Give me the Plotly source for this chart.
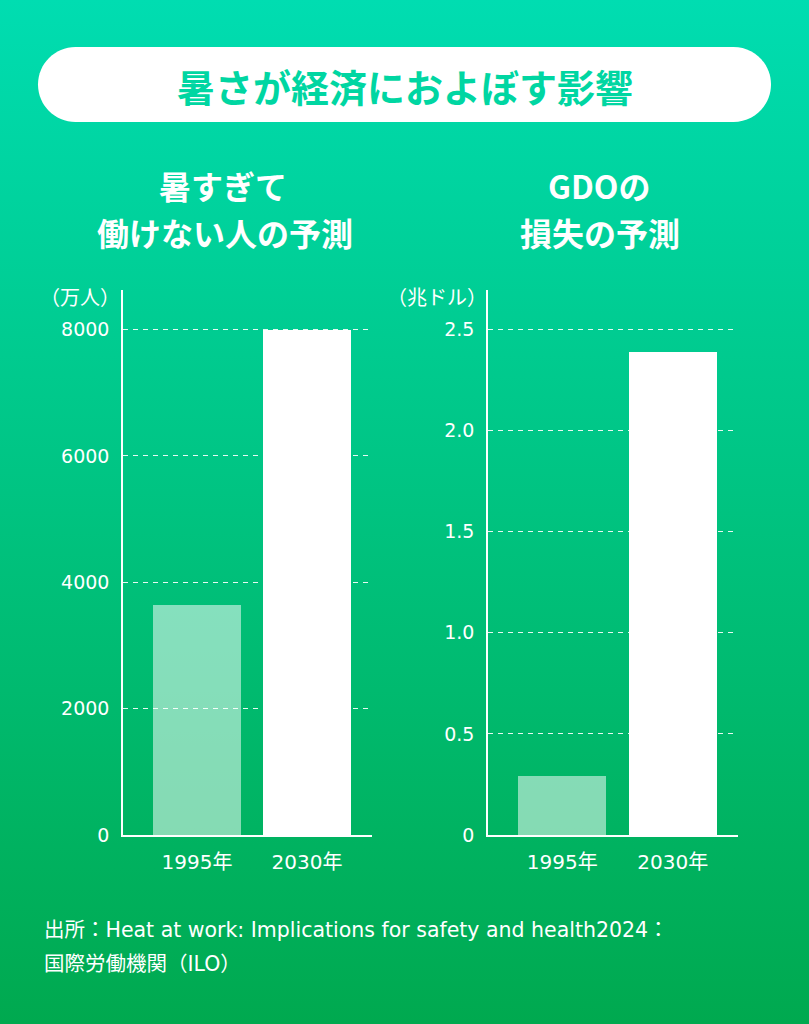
import base64
import plotly.graph_objects as go

W, H = 809, 1024

# data
years = ["1995年", "2030年"]
workers = [3640, 8000]          # 万人
gdp_loss = [0.29, 2.39]         # 兆ドル
worker_ticks = [0, 2000, 4000, 6000, 8000]
gdp_ticks = [0, 0.5, 1.0, 1.5, 2.0, 2.5]
gdp_tick_text = ["0", "0.5", "1.0", "1.5", "2.0", "2.5"]

FONT = "Noto Sans CJK JP"
TEXT_FONT = "DejaVu Sans, Noto Sans CJK JP"
bar_colors = ["rgba(255,255,255,0.52)", "#ffffff"]


def px(x):
    return x / W


def py(y):
    return 1 - y / H


def pt(x, y):
    return "%.5f,%.5f" % (px(x), py(y))


# rounded title pill as a path (pixel coords -> paper)
def pill(x0, y0, x1, y1):
    r = (y1 - y0) / 2
    k = 0.5523 * r
    ym = y0 + r
    return ("M" + pt(x0 + r, y0) + " L" + pt(x1 - r, y0) +
            " C" + pt(x1 - r + k, y0) + " " + pt(x1, ym - k) + " " + pt(x1, ym) +
            " C" + pt(x1, ym + k) + " " + pt(x1 - r + k, y1) + " " + pt(x1 - r, y1) +
            " L" + pt(x0 + r, y1) +
            " C" + pt(x0 + r - k, y1) + " " + pt(x0, ym + k) + " " + pt(x0, ym) +
            " C" + pt(x0, ym - k) + " " + pt(x0 + r - k, y0) + " " + pt(x0 + r, y0) + " Z")


svg = ('<svg xmlns="http://www.w3.org/2000/svg" width="809" height="1024">'
       '<defs><linearGradient id="g" x1="0" y1="0" x2="0" y2="1">'
       '<stop offset="0" stop-color="#00ddb1"/><stop offset="1" stop-color="#00a94f"/>'
       '</linearGradient></defs><rect width="809" height="1024" fill="url(#g)"/></svg>')
bg = "data:image/svg+xml;base64," + base64.b64encode(svg.encode()).decode()

fig = go.Figure()
fig.add_trace(go.Bar(x=[0, 1], y=workers, width=0.8, marker=dict(color=bar_colors, line_width=0),
                     xaxis="x", yaxis="y", hoverinfo="skip"))
fig.add_trace(go.Bar(x=[0, 1], y=gdp_loss, width=0.8, marker=dict(color=bar_colors, line_width=0),
                     xaxis="x2", yaxis="y2", hoverinfo="skip"))

y_bottom, y_top = 835, 290
y_domain = [py(y_bottom), py(y_top)]
xrange = [-0.673, 1.591]

common_x = dict(tickmode="array", tickvals=[0, 1], ticktext=years, range=xrange,
                showgrid=False, zeroline=False, showline=True, linecolor="white", linewidth=1.5,
                ticks="", ticklabelstandoff=8, automargin=False,
                tickfont=dict(family=TEXT_FONT, size=20, color="white"), fixedrange=True)
common_y = dict(domain=y_domain, showgrid=True, gridcolor="rgba(255,255,255,0.9)", gridwidth=1,
                griddash="5px,5px", zeroline=False, showline=True, linecolor="white", linewidth=1.5,
                ticks="", ticklabelstandoff=8, automargin=False,
                tickfont=dict(family=TEXT_FONT, size=19, color="white"), fixedrange=True)

fig.update_layout(
    width=W, height=H, autosize=False,
    margin=dict(l=0, r=0, t=0, b=0, pad=0),
    paper_bgcolor="#00c380", plot_bgcolor="rgba(0,0,0,0)",
    showlegend=False, bargap=0,
    xaxis=dict(domain=[px(123), px(372)], anchor="y", **common_x),
    xaxis2=dict(domain=[px(488), px(738)], anchor="y2", **common_x),
    yaxis=dict(anchor="x", range=[0, 8000 * 545 / 505.5], tickmode="array",
               tickvals=worker_ticks, ticktext=[str(v) for v in worker_ticks], **common_y),
    yaxis2=dict(anchor="x2", range=[0, 2.5 * 545 / 505.5], tickmode="array",
                tickvals=gdp_ticks, ticktext=gdp_tick_text, **common_y),
    images=[dict(source=bg, xref="paper", yref="paper", x=0, y=1, sizex=1, sizey=1,
                 sizing="stretch", xanchor="left", yanchor="top", layer="below")],
    shapes=[dict(type="path", xref="paper", yref="paper", path=pill(38, 47, 771, 122),
                 fillcolor="white", line_width=0, layer="above")],
)


def note(text, x, y, size, color="white", bold=False, xanchor="center", family=FONT):
    fig.add_annotation(text=text, xref="paper", yref="paper", x=px(x), y=py(y),
                       xanchor=xanchor, yanchor="middle", showarrow=False,
                       font=dict(family=family, size=size, color=color,
                                 weight="bold" if bold else "normal"))


note("暑さが経済におよぼす影響", 405, 85, 38, color="#00d6a2", bold=True)
note("暑すぎて", 223, 185, 32, bold=True)
note("働けない人の予測", 225, 232, 32, bold=True)
note("GDOの", 599, 185, 32, bold=True)
note("損失の予測", 600, 232, 32, bold=True)
note("（万人）", 122, 296, 20, xanchor="right")
note("（兆ドル）", 489, 296, 20, xanchor="right")
note("出所：Heat at work: Implications for safety and health2024：", 42, 930, 20.5,
     xanchor="left", family=TEXT_FONT)
note("国際労働機関（ILO）", 42, 964, 20.5, xanchor="left", family=TEXT_FONT)

fig.write_html("out.html", config={"displayModeBar": False},
               post_script="document.body.style.margin='0';")
